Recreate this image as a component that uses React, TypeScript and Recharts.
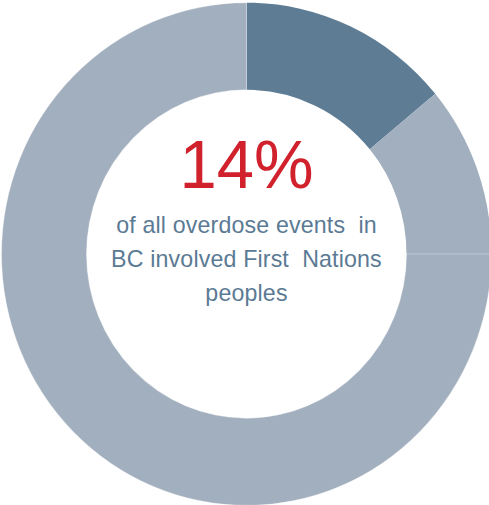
import { PieChart, Pie, Cell, Label } from 'recharts';

// share of overdose events, clockwise from 12 o'clock
const segmentNames = ['First Nations', 'Other A', 'Other B'];
const segmentValues = [14, 11, 75];
const segmentColors = ['#5e7d95', '#a2afbe', '#a2afbe'];

const headline = '14%';
const captionLines = ['of all overdose events  in', 'BC involved First  Nations', 'peoples'];

const CX = 246.5;
const CY = 254;

const data = segmentNames.map((name, i) => ({ name, value: segmentValues[i] }));

function CenterText() {
    return (
        <g style={{ fontFamily: '"Liberation Sans", Arial, sans-serif' }}>
            <text x={CX} y={190} textAnchor="middle" fill="#d0212d" fontSize={67}>
                {headline}
            </text>
            {captionLines.map((line, i) => (
                <text
                    key={i}
                    x={CX}
                    y={233.5 + i * 33.3}
                    textAnchor="middle"
                    fill="#5b7a94"
                    fontSize={23.2}
                    letterSpacing={0.15}
                    style={{ whiteSpace: 'pre' }}
                >
                    {line}
                </text>
            ))}
        </g>
    );
}

export default function App() {
    return (
        <div
            style={{
                position: 'absolute',
                left: 0,
                top: 0,
                width: 489,
                height: 505,
                transform: 'scaleY(1.026)',
                transformOrigin: `${CX}px ${CY}px`,
            }}
        >
            <PieChart width={489} height={505} margin={{ top: 0, right: 0, bottom: 0, left: 0 }}>
                <Pie
                    data={data}
                    dataKey="value"
                    nameKey="name"
                    cx={CX}
                    cy={CY}
                    innerRadius={160}
                    outerRadius={245}
                    startAngle={90}
                    endAngle={-270}
                    isAnimationActive={false}
                    stroke="none"
                >
                    {data.map((d, i) => (
                        <Cell
                            key={d.name}
                            fill={segmentColors[i]}
                            stroke={i === 2 ? 'rgba(255,255,255,0.35)' : 'none'}
                            strokeWidth={1}
                        />
                    ))}
                    <Label position="center" content={() => <CenterText />} />
                </Pie>
            </PieChart>
        </div>
    );
}
